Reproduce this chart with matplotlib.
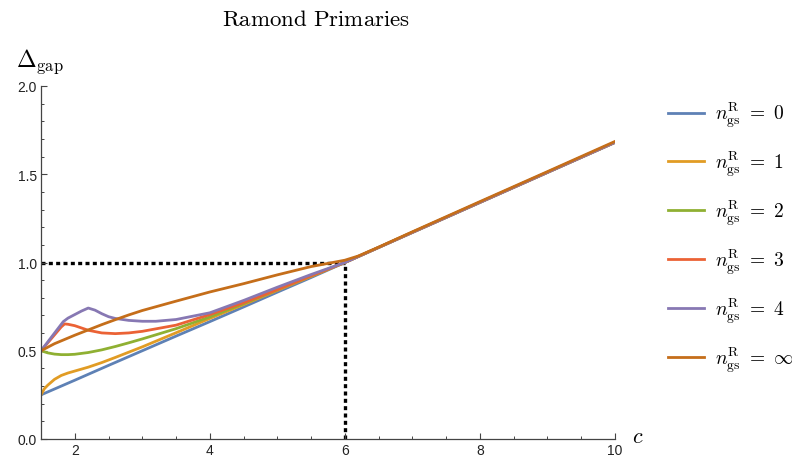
import matplotlib
matplotlib.use("Agg")
import matplotlib.pyplot as plt

plt.rcParams["mathtext.fontset"] = "cm"
plt.rcParams["font.family"] = ["Liberation Sans", "DejaVu Sans"]

# data
c_n0 = [1.5, 2.0, 2.5, 3.0, 3.5, 4.0, 4.5, 5.0, 5.5, 6.0, 7.0, 8.0, 9.0, 10.0]
gap_n0 = [0.25, 0.333, 0.417, 0.50, 0.583, 0.665, 0.748, 0.832, 0.915, 1.0, 1.17, 1.34, 1.51, 1.68]

c_n1 = [1.5, 1.55, 1.6, 1.7, 1.8, 1.9, 2.0, 2.2, 2.4, 2.6, 2.8, 3.0, 3.5, 4.0, 4.5, 5.0, 5.5, 6.0,
        7.0, 8.0, 9.0, 10.0]
gap_n1 = [0.25, 0.285, 0.305, 0.338, 0.36, 0.374, 0.385, 0.407, 0.433, 0.462, 0.492, 0.522, 0.602,
          0.683, 0.762, 0.842, 0.921, 1.0, 1.171, 1.341, 1.511, 1.681]

c_n2 = [1.5, 1.6, 1.7, 1.8, 1.9, 2.0, 2.2, 2.4, 2.6, 2.8, 3.0, 3.5, 4.0, 4.5, 5.0, 5.5, 6.0,
        7.0, 8.0, 9.0, 10.0]
gap_n2 = [0.5, 0.488, 0.481, 0.478, 0.478, 0.48, 0.49, 0.505, 0.524, 0.545, 0.567, 0.625, 0.692,
          0.767, 0.846, 0.925, 1.0, 1.171, 1.341, 1.511, 1.681]

c_n3 = [1.5, 1.6, 1.7, 1.8, 1.85, 1.9, 2.0, 2.2, 2.4, 2.6, 2.8, 3.0, 3.5, 4.0, 4.5, 5.0, 5.5, 6.0,
        7.0, 8.0, 9.0, 10.0]
gap_n3 = [0.5, 0.545, 0.59, 0.635, 0.652, 0.65, 0.642, 0.616, 0.601, 0.597, 0.601, 0.61, 0.645,
          0.705, 0.772, 0.847, 0.925, 1.0, 1.171, 1.341, 1.511, 1.681]

c_n4 = [1.5, 1.6, 1.7, 1.83, 1.9, 2.0, 2.1, 2.2, 2.3, 2.4, 2.5, 2.6, 2.8, 3.0, 3.2, 3.5, 4.0, 4.5,
        5.0, 5.5, 6.0, 7.0, 8.0, 9.0, 10.0]
gap_n4 = [0.5, 0.55, 0.6, 0.665, 0.685, 0.705, 0.725, 0.742, 0.73, 0.71, 0.693, 0.683, 0.672,
          0.667, 0.667, 0.677, 0.715, 0.785, 0.86, 0.932, 1.0, 1.171, 1.341, 1.511, 1.681]

c_inf = [1.5, 1.6, 1.7, 1.8, 1.9, 2.0, 2.2, 2.4, 2.6, 2.8, 3.0, 3.5, 4.0, 4.5, 5.0, 5.5, 6.0, 6.2,
         6.5, 7.0, 8.0, 9.0, 10.0]
gap_inf = [0.5, 0.52, 0.54, 0.556, 0.572, 0.588, 0.618, 0.648, 0.676, 0.703, 0.728, 0.781, 0.833,
           0.88, 0.93, 0.977, 1.013, 1.037, 1.087, 1.174, 1.345, 1.515, 1.686]

series = [(c_n0, gap_n0, "0"), (c_n1, gap_n1, "1"), (c_n2, gap_n2, "2"),
          (c_n3, gap_n3, "3"), (c_n4, gap_n4, "4"), (c_inf, gap_inf, r"\infty")]
colors = ["#5E81B5", "#E19C24", "#8FB032", "#EB6235", "#8778B3", "#C56E1A"]

ref_c = 6.0
ref_gap = 1.0

fig = plt.figure(figsize=(7.92, 4.64), dpi=100)
ax = fig.add_axes([41 / 792, 24 / 464, 574 / 792, 353 / 464])

# dotted guide lines at c = 6, gap = 1
ax.plot([1.5, ref_c], [ref_gap, ref_gap], color="black", lw=2.4, ls=(0, (1.2, 1.0)), zorder=1)
ax.plot([ref_c, ref_c], [0, ref_gap], color="black", lw=2.4, ls=(0, (1.2, 1.0)), zorder=1)

handles = []
for (cx, gx, lab), col in zip(series, colors):
    h, = ax.plot(cx, gx, color=col, lw=2.0, solid_joinstyle="round",
                 label=r"$n_{\mathrm{gs}}^{\mathrm{R}}\ =\ " + lab + "$", zorder=2)
    handles.append(h)

ax.set_xlim(1.5, 10)
ax.set_ylim(0, 2)
ax.set_xticks([2, 4, 6, 8, 10])
ax.set_xticks([x * 0.5 for x in range(3, 21)], minor=True)
ax.set_yticks([0.0, 0.5, 1.0, 1.5, 2.0])
ax.set_yticks([y * 0.1 for y in range(0, 21)], minor=True)
ax.yaxis.set_major_formatter(matplotlib.ticker.FormatStrFormatter("%.1f"))

for s in ["top", "right"]:
    ax.spines[s].set_visible(False)
for s in ["left", "bottom"]:
    ax.spines[s].set_color("#444444")
    ax.spines[s].set_linewidth(0.9)
ax.tick_params(which="major", direction="in", length=4.5, width=0.8, color="#444444",
               labelsize=10, labelcolor="#222222", pad=3)
ax.tick_params(which="minor", direction="in", length=2.5, width=0.7, color="#444444")

fig.text(316 / 792, 1 - 20 / 464, r"$\mathrm{Ramond\ Primaries}$", ha="center", va="center",
         fontsize=16.5)
fig.text(16 / 792, 1 - 62 / 464, r"$\Delta_{\mathrm{gap}}$", ha="left", va="center", fontsize=17)
fig.text(632 / 792, 1 - 438 / 464, r"$c$", ha="left", va="center", fontsize=16)

fig.legend(handles=handles, loc="upper left", bbox_to_anchor=(668 / 792, 1 - 101 / 464),
           frameon=False, fontsize=14, handlelength=1.85, handletextpad=0.55,
           labelspacing=1.0, borderpad=0, borderaxespad=0)

fig.savefig("out.png", dpi=100)
